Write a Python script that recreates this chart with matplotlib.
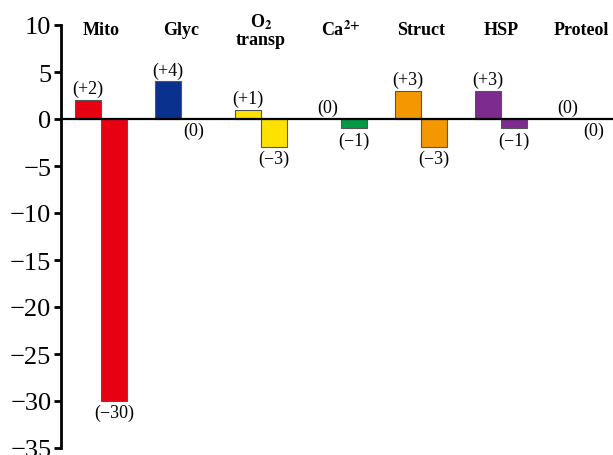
import numpy as np
import matplotlib.pyplot as plt

plt.rcParams['font.family'] = ['Liberation Serif', 'DejaVu Serif']
plt.rcParams['mathtext.fontset'] = 'stix'

# data
categories = ["Mito", "Glyc", "O$_\\mathbf{2}$\ntransp", "Ca$^{\\mathbf{2{+}}}$",
              "Struct", "HSP", "Proteol"]
up_values = [2, 4, 1, 0, 3, 3, 0]
down_values = [-30, 0, -3, -1, -3, -1, 0]
colors = ["#E60012", "#0B318F", "#FFE100", "#009944", "#F39800", "#7D2B8F", "#888888"]

def fmt(v):
    if v > 0:
        return "(+%d)" % v
    if v < 0:
        return "(\u2212%d)" % abs(v)
    return "(0)"

fig = plt.figure(figsize=(6.13, 4.56), dpi=100)
ax = fig.add_axes([61 / 613, 1 - 449 / 456, 1 - 61 / 613, (449 - 26) / 456])

w = 0.325
x = np.arange(len(categories))
for i in range(len(categories)):
    if up_values[i] != 0:
        ax.bar(x[i] - w / 2, up_values[i], width=w, color=colors[i],
               edgecolor="#555555", linewidth=0.8, zorder=2)
    if down_values[i] != 0:
        ax.bar(x[i] + w / 2, down_values[i], width=w, color=colors[i],
               edgecolor="#555555", linewidth=0.8, zorder=2)
    ax.text(x[i] - w / 2, up_values[i] + 0.3, fmt(up_values[i]),
            ha="center", va="bottom", fontsize=13)
    ax.text(x[i] + w / 2, down_values[i] - 0.3, fmt(down_values[i]),
            ha="center", va="top", fontsize=13)
    ax.text(x[i], 9.5, categories[i], ha="center", va="center",
            fontsize=13, fontweight="bold", linespacing=0.95)

ax.axhline(0, color="black", linewidth=1.6, zorder=3)

ax.set_xlim(-0.5, 6.4)
ax.set_ylim(-35, 10)
ax.set_yticks(np.arange(-35, 11, 5))
ax.set_xticks([])
for s in ["top", "right", "bottom"]:
    ax.spines[s].set_visible(False)
ax.spines["left"].set_linewidth(2)
ax.tick_params(axis="y", length=5, width=2, labelsize=19, pad=2)

fig.savefig("out.png", dpi=100)
